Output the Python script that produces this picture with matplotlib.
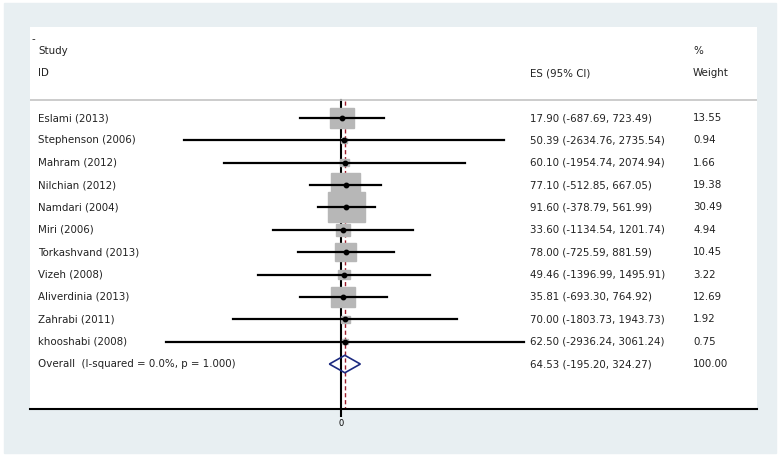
import numpy as np
import matplotlib.pyplot as plt
from matplotlib.patches import Rectangle, Polygon

studies = ['Eslami (2013)', 'Stephenson (2006)', 'Mahram (2012)', 'Nilchian (2012)',
           'Namdari (2004)', 'Miri (2006)', 'Torkashvand (2013)', 'Vizeh (2008)',
           'Aliverdinia (2013)', 'Zahrabi (2011)', 'khooshabi (2008)']
es = [17.90, 50.39, 60.10, 77.10, 91.60, 33.60, 78.00, 49.46, 35.81, 70.00, 62.50]
lo = [-687.69, -2634.76, -1954.74, -512.85, -378.79, -1134.54, -725.59, -1396.99, -693.30, -1803.73, -2936.24]
hi = [723.49, 2735.54, 2074.94, 667.05, 561.99, 1201.74, 881.59, 1495.91, 764.92, 1943.73, 3061.24]
weights = [13.55, 0.94, 1.66, 19.38, 30.49, 4.94, 10.45, 3.22, 12.69, 1.92, 0.75]
overall_label = 'Overall  (I-squared = 0.0%, p = 1.000)'
overall = (64.53, -195.20, 324.27)
overall_weight = 100.00

W, H = 779, 458
fig = plt.figure(figsize=(W / 100, H / 100), dpi=100)
plt.rcParams['font.family'] = ['DejaVu Sans']

# outer light panel
fig.patches.append(Rectangle((4 / W, 1 - 453 / H), 772 / W, 450 / H, transform=fig.transFigure,
                             color='#e8eff2', zorder=0))

ax = fig.add_axes([30 / W, 1 - 409 / H, 727 / W, 382 / H])
ax.set_zorder(2)
ax.set_facecolor('white')
ax.set_xlim(-(341 - 30) * 16.75, (757 - 341) * 16.75)
ax.set_ylim(14.01, -3.07)
for s in ['top', 'left', 'right']:
    ax.spines[s].set_visible(False)
ax.spines['bottom'].set_linewidth(1.5)
ax.set_yticks([])
ax.set_xticks([0])
ax.set_xticklabels(['0'], fontsize=6)
ax.tick_params(axis='x', length=6, width=1.5, pad=1.5)

tr = ax.get_yaxis_transform()
fs = 7.4
tc = '#222222'
col_es = 0.688
col_w = 0.912
n = len(studies)
rows = np.arange(1, n + 1)

# header
ax.text(0.0014, -2.53, '-', transform=tr, fontsize=fs, va='center', color=tc)
ax.text(0.011, -2.0, 'Study', transform=tr, fontsize=fs, va='center', color=tc)
ax.text(0.011, -1.0, 'ID', transform=tr, fontsize=fs, va='center', color=tc)
ax.text(col_es, -1.0, 'ES (95% CI)', transform=tr, fontsize=fs, va='center', color=tc)
ax.text(col_w, -2.0, '%', transform=tr, fontsize=fs, va='center', color=tc)
ax.text(col_w, -1.0, 'Weight', transform=tr, fontsize=fs, va='center', color=tc)
ax.axhline(0.2, color='#c4c4c4', lw=1.2)

# null line and overall line
ax.plot([0, 0], [0.2, 14.01], color='black', lw=1.5, zorder=1)
ax.plot([overall[0]] * 2, [0.25, 14.01], color='#9b1c2a', lw=1, ls=(0, (3, 2)), zorder=1)

for r, name, e, l, h, w in zip(rows, studies, es, lo, hi, weights):
    bw = 112 * np.sqrt(w)
    bh = 0.243 * np.sqrt(w)
    ax.add_patch(Rectangle((e - bw / 2, r - bh / 2), bw, bh, color='#b7b7b7', zorder=2))
    ax.plot([l, h], [r, r], color='black', lw=1.6, zorder=3)
    ax.plot(e, r, 'o', color='black', ms=3.2, zorder=4)
    ax.text(0.011, r, name, transform=tr, fontsize=fs, va='center', color=tc)
    ax.text(col_es, r, '{0:.2f} ({1:.2f}, {2:.2f})'.format(e, l, h), transform=tr, fontsize=fs,
            va='center', color=tc)
    ax.text(col_w, r, '{0:.2f}'.format(w), transform=tr, fontsize=fs, va='center', color=tc)

ro = n + 1
oe, ol, oh = overall
dh = 0.39
ax.add_patch(Polygon([(ol, ro), (oe, ro - dh), (oh, ro), (oe, ro + dh)], closed=True,
                     fill=False, edgecolor='#1c2a80', lw=1.2, zorder=4))
ax.text(0.011, ro, overall_label, transform=tr, fontsize=fs, va='center', color=tc)
ax.text(col_es, ro, '{0:.2f} ({1:.2f}, {2:.2f})'.format(oe, ol, oh), transform=tr, fontsize=fs,
        va='center', color=tc)
ax.text(col_w, ro, '{0:.2f}'.format(overall_weight), transform=tr, fontsize=fs, va='center', color=tc)

fig.savefig('out.png', dpi=100)
